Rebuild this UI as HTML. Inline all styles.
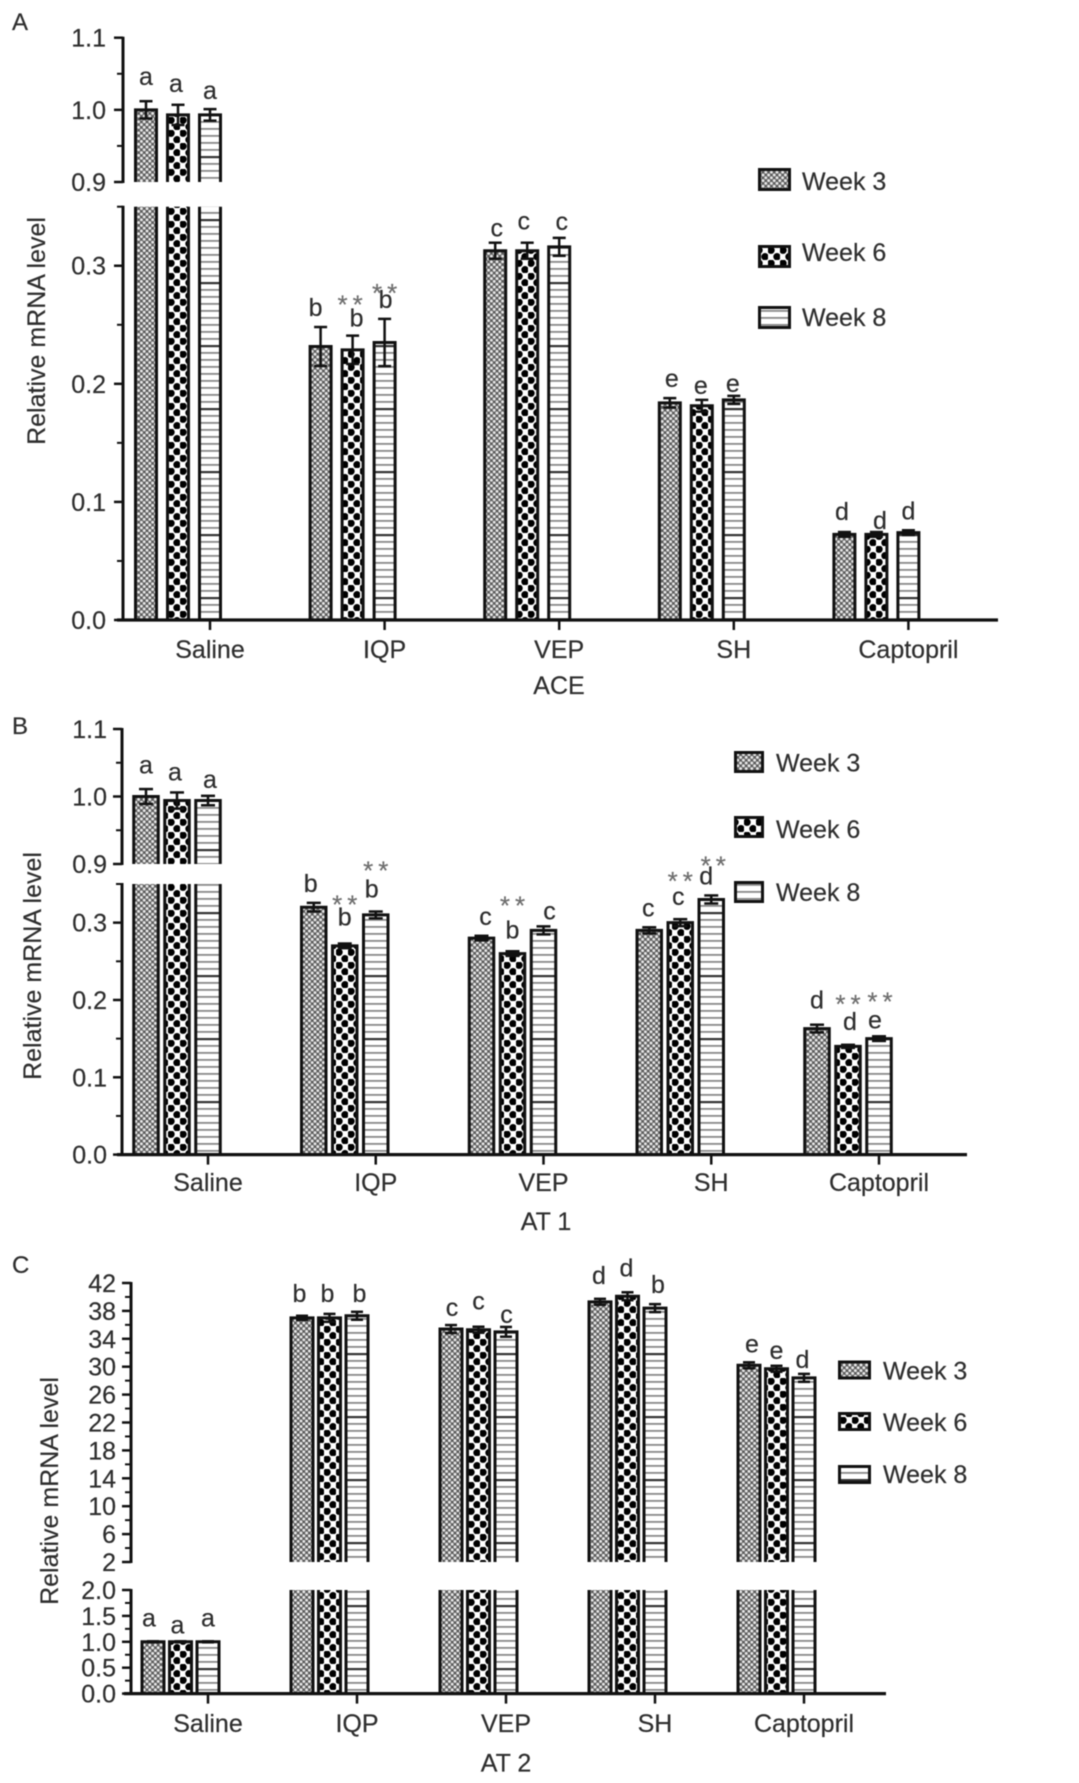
<!DOCTYPE html>
<html lang="en">
<head>
<meta charset="utf-8">
<title>Relative mRNA level charts</title>
<style>
html,body{margin:0;padding:0;background:#fff;}
body{width:1079px;height:1783px;overflow:hidden;}
svg{display:block;filter:blur(0.55px);}
text{font-family:"Liberation Sans",sans-serif;fill:#2e2e2e;stroke:#2e2e2e;stroke-width:0.2px;font-size:25px;}
</style>
</head>
<body>
<svg id="chart" xmlns="http://www.w3.org/2000/svg" width="1079" height="1783" viewBox="0 0 1079 1783">
<defs>
<pattern id="p-week3" patternUnits="userSpaceOnUse" width="5.6" height="5.6">
<rect width="5.6" height="5.6" fill="#5c5c5c"/>
<circle cx="1.4" cy="1.4" r="1.5" fill="#e8e8e8"/>
<circle cx="4.2" cy="4.2" r="1.5" fill="#e8e8e8"/>
</pattern>
<pattern id="p-week6" patternUnits="userSpaceOnUse" width="12" height="13">
<rect width="12" height="13" fill="#fff"/>
<circle cx="3" cy="3.2" r="3.7" fill="#000"/>
<circle cx="9" cy="9.7" r="3.7" fill="#000"/>
</pattern>
<pattern id="p-week8" patternUnits="userSpaceOnUse" width="10" height="63">
<rect width="10" height="63" fill="#fff"/>
<rect y="2" width="10" height="1.8" fill="#8a8a8a"/>
<rect y="9" width="10" height="1.8" fill="#8a8a8a"/>
<rect y="16" width="10" height="1.8" fill="#8a8a8a"/>
<rect y="23" width="10" height="1.8" fill="#8a8a8a"/>
<rect y="30" width="10" height="2.2" fill="#333"/>
<rect y="37" width="10" height="1.8" fill="#8a8a8a"/>
<rect y="44" width="10" height="1.8" fill="#8a8a8a"/>
<rect y="51" width="10" height="1.8" fill="#8a8a8a"/>
<rect y="58" width="10" height="1.8" fill="#8a8a8a"/>
</pattern>
</defs>
</svg>
<script>
const categories = ["Saline", "IQP", "VEP", "SH", "Captopril"];
const seriesNames = ["Week 3", "Week 6", "Week 8"];

/* Panel A: ACE */
const aceWeek3 = [1.0, 0.2316, 0.3127, 0.1839, 0.0725];
const aceWeek6 = [0.993, 0.2288, 0.3127, 0.1814, 0.0725];
const aceWeek8 = [0.993, 0.235, 0.316, 0.1864, 0.074];
const aceErr3 = [0.012, 0.0165, 0.0068, 0.004, 0.002];
const aceErr6 = [0.014, 0.012, 0.0068, 0.005, 0.002];
const aceErr8 = [0.008, 0.02, 0.0076, 0.0034, 0.002];
const aceLetters = ["aaa", "bbb", "ccc", "eee", "ddd"];
const aceUpperTicks = [0.9, 1.0, 1.1];
const aceLowerTicks = [0.0, 0.1, 0.2, 0.3];

/* Panel B: AT 1 */
const at1Week3 = [1.0, 0.32, 0.28, 0.29, 0.163];
const at1Week6 = [0.994, 0.27, 0.26, 0.30, 0.14];
const at1Week8 = [0.994, 0.31, 0.29, 0.33, 0.15];
const at1Err3 = [0.011, 0.0056, 0.003, 0.004, 0.005];
const at1Err6 = [0.012, 0.003, 0.003, 0.0045, 0.002];
const at1Err8 = [0.007, 0.0044, 0.0052, 0.0052, 0.003];
const at1Letters = ["aaa", "bbb", "cbc", "ccd", "dde"];
const at1UpperTicks = [0.9, 1.0, 1.1];
const at1LowerTicks = [0.0, 0.1, 0.2, 0.3];

/* Panel C: AT 2 */
const at2Week3 = [1.0, 37.0, 35.4, 39.3, 30.2];
const at2Week6 = [1.0, 37.0, 35.3, 40.1, 29.7];
const at2Week8 = [1.0, 37.3, 35.0, 38.4, 28.4];
const at2Err3 = [0.01, 0.3, 0.57, 0.43, 0.43];
const at2Err6 = [0.01, 0.57, 0.43, 0.57, 0.43];
const at2Err8 = [0.01, 0.57, 0.7, 0.57, 0.57];
const at2Letters = ["aaa", "bbb", "ccc", "ddb", "eed"];
const at2UpperTicks = [2, 6, 10, 14, 18, 22, 26, 30, 34, 38, 42];
const at2LowerTicks = [0.0, 0.5, 1.0, 1.5, 2.0];

const SVG_NS = "http://www.w3.org/2000/svg";
const root = document.getElementById("chart");

function scale(d0, d1, r0, r1) {
  return function (v) { return r0 + (v - d0) * (r1 - r0) / (d1 - d0); };
}
function make(parent, tag, attrs, name) {
  const el = document.createElementNS(SVG_NS, tag);
  for (const k in attrs) el.setAttribute(k, attrs[k]);
  
  
  parent.appendChild(el);
  return el;
}
function line(parent, x1, y1, x2, y2, w, name) {
  return make(parent, "line", {x1: x1, y1: y1, x2: x2, y2: y2, stroke: "#111", "stroke-width": w}, name);
}
function label(parent, x, y, str, anchor, name, extra) {
  const attrs = {x: x, y: y, "text-anchor": anchor};
  if (extra) for (const k in extra) attrs[k] = extra[k];
  const t = make(parent, "text", attrs, name);
  t.textContent = str;
  return t;
}

function drawBarSegment(g, x, w, yBase, yTop, clipped, fill, name) {
  make(g, "rect", {x: x - w / 2, y: yTop, width: w, height: yBase - yTop, fill: "url(#" + fill + ")"}, name + "-fill");
  const d = clipped
    ? "M" + (x - w / 2) + " " + yBase + "V" + yTop + "M" + (x + w / 2) + " " + yTop + "V" + yBase
    : "M" + (x - w / 2) + " " + yBase + "V" + yTop + "H" + (x + w / 2) + "V" + yBase;
  make(g, "path", {d: d, fill: "none", stroke: "#111", "stroke-width": 3}, name + "-outline");
}

function drawPanel(p) {
  const g = make(root, "g", {}, p.id);
  const low = scale(p.low.d0, p.low.d1, p.low.r0, p.low.r1);
  const up = scale(p.up.d0, p.up.d1, p.up.r0, p.up.r1);
  const catX = function (i) { return p.x0 + i * p.step; };
  const barX = function (i, s) { return catX(i) + (s - 2) * p.pitch; };
  const fills = ["p-week3", "p-week6", "p-week8"];

  label(g, 12, p.letterY, p.letter, "start", "panel-label", {style: "font-size:24px"});

  /* bars, error bars, letters */
  const errTops = [];
  categories.forEach(function (cat, i) {
    errTops.push([]);
    p.values.forEach(function (vals, s) {
      const v = vals[i], e = p.errs[s][i], x = barX(i, s);
      const key = "bar-" + cat.toLowerCase() + "-w" + (s === 0 ? 3 : s === 1 ? 6 : 8);
      let sc;
      if (v > p.low.d1) {
        drawBarSegment(g, x, p.barW, low(p.low.d0), low(p.low.d1), true, fills[s], key + "-lower");
        drawBarSegment(g, x, p.barW, up(p.up.d0), up(v), false, fills[s], key + "-upper");
        sc = up;
      } else {
        drawBarSegment(g, x, p.barW, low(p.low.d0), low(v), false, fills[s], key);
        sc = low;
      }
      const yT = sc(v + e), yB = sc(v - e);
      errTops[i].push(yT);
      line(g, x, yT, x, yB, 2.5, "error-bar-" + key);
      line(g, x - p.cap / 2, yT, x + p.cap / 2, yT, 2.5, "error-cap-high-" + key);
      line(g, x - p.cap / 2, yB, x + p.cap / 2, yB, 2.5, "error-cap-low-" + key);
      label(g, x + p.letterDx[i][s], yT - p.letterGap[i][s], p.letters[i][s], "middle", "significance-letter");
    });
  });
  (p.stars || []).forEach(function (st) {
    const x = barX(st[0], st[1]) + st[2];
    const y = errTops[st[0]][st[1]] - st[3] + 15;
    label(g, x + 2.5, y, "**", "middle", "significance-stars", {style: "font-size:26px;fill:#6e6e6e;stroke:#6e6e6e;letter-spacing:5px"});
  });

  /* y axis */
  line(g, p.axisX, up(p.up.d1) - 1, p.axisX, up(p.up.d0) + 1, 3, "y-axis-upper");
  line(g, p.axisX, low(p.low.d1) - 1, p.axisX, low(p.low.d0), 3, "y-axis-lower");
  function ticks(list, sc, minors, fmt) {
    list.forEach(function (t) {
      line(g, p.axisX - 9, sc(t), p.axisX, sc(t), 2.5, "y-tick");
      label(g, p.labelRight, sc(t) + 9, fmt(t), "end", "y-tick-label");
    });
    minors.forEach(function (t) {
      line(g, p.axisX - 6, sc(t), p.axisX, sc(t), 2, "y-minor-tick");
    });
  }
  ticks(p.upTicks, up, p.upMinor, p.fmtUp);
  ticks(p.lowTicks, low, p.lowMinor, p.fmtLow);

  /* x axis */
  line(g, p.xStart, low(p.low.d0), p.xEnd, low(p.low.d0), 3.2, "x-axis");
  categories.forEach(function (cat, i) {
    line(g, catX(i), low(p.low.d0), catX(i), low(p.low.d0) + 10, 2.5, "x-tick");
    label(g, catX(i), p.catY, cat, "middle", "x-category-label");
  });
  label(g, p.titleX, p.titleY, p.title, "middle", "x-axis-title");

  /* y title */
  label(g, 0, 0, "Relative mRNA level", "middle", "y-axis-title",
    {transform: "translate(" + p.yTitleX + " " + p.yTitleY + ") rotate(-90)"});

  /* legend */
  seriesNames.forEach(function (n, s) {
    const L = p.legend;
    const y = L.y[s];
    make(g, "rect", {x: L.x + 1.5, y: y + 1.5, width: L.w - 3, height: L.h - 3, fill: "url(#" + fills[s] + ")", stroke: "#111", "stroke-width": 3}, "legend-swatch");
    label(g, L.textX, L.base[s], n, "start", "legend-label");
  });
}

function oneDec(v) { return v.toFixed(1); }
function plain(v) { return String(v); }

drawPanel({
  id: "panel-a", letter: "A", letterY: 30, title: "ACE", titleX: 559, titleY: 694,
  values: [aceWeek3, aceWeek6, aceWeek8], errs: [aceErr3, aceErr6, aceErr8], letters: aceLetters,
  letterDx: [[0, -2, 0], [-5, 4, 1], [1.5, -3.5, 2.5], [2, -1, -1], [-2.5, 3.5, 0]],
  letterGap: [[16, 13, 10], [11, 9, 11], [6, 13, 8], [11, 6, 4], [12, 3, 11]],
  stars: [[1, 1, -2.5, 37], [1, 2, 0, 32]],
  x0: 210, step: 174.6, pitch: 32, barW: 21, cap: 13,
  low: {d0: 0, d1: 0.35, r0: 620, r1: 206.7}, up: {d0: 0.9, d1: 1.1, r0: 182, r1: 37.7},
  upTicks: aceUpperTicks, lowTicks: aceLowerTicks,
  upMinor: [0.95, 1.05], lowMinor: [0.05, 0.15, 0.25, 0.35],
  fmtUp: oneDec, fmtLow: oneDec,
  axisX: 123, labelRight: 106, xStart: 117, xEnd: 998, catY: 658,
  yTitleX: 45, yTitleY: 331,
  legend: {x: 758, w: 33, h: 23, y: [168, 245, 306], textX: 802, base: [190, 261, 326]}
});

drawPanel({
  id: "panel-b", letter: "B", letterY: 734, title: "AT 1", titleX: 546, titleY: 1230,
  values: [at1Week3, at1Week6, at1Week8], errs: [at1Err3, at1Err6, at1Err8], letters: at1Letters,
  letterDx: [[0, -2, 2], [-3, 0, -4], [4, 0, 6], [-1, -2, -5], [0, 2, -4]],
  letterGap: [[15.6, 12, 8], [11, 18, 14], [11, 13, 7], [11, 14, 11], [16, 15, 8]],
  stars: [[1, 1, 0, 45], [1, 2, 0, 47], [2, 1, 0, 52], [3, 1, 0, 44], [3, 2, 2, 36], [4, 1, 0, 47], [4, 2, 1, 41]],
  x0: 208, step: 167.75, pitch: 31, barW: 24.5, cap: 14,
  low: {d0: 0, d1: 0.35, r0: 1154.6, r1: 884}, up: {d0: 0.9, d1: 1.1, r0: 864, r1: 729},
  upTicks: at1UpperTicks, lowTicks: at1LowerTicks,
  upMinor: [0.95, 1.05], lowMinor: [0.05, 0.15, 0.25, 0.35],
  fmtUp: oneDec, fmtLow: oneDec,
  axisX: 122, labelRight: 107, xStart: 117, xEnd: 967, catY: 1191,
  yTitleX: 41, yTitleY: 966,
  legend: {x: 734, w: 30, h: 22, y: [751, 816, 881], textX: 776, base: [771.5, 838, 901]}
});

drawPanel({
  id: "panel-c", letter: "C", letterY: 1273, title: "AT 2", titleX: 506, titleY: 1771.5,
  values: [at2Week3, at2Week6, at2Week8], errs: [at2Err3, at2Err6, at2Err8], letters: at2Letters,
  letterDx: [[-4, -3, 0], [-2.5, -2, 2.5], [1, 0, 0.5], [-1, -1, 3], [3, 0, -1.5]],
  letterGap: [[15, 8, 15], [14, 12, 10], [9, 17, 4], [15, 16, 11], [10, 7, 6]],
  stars: [],
  x0: 208, step: 149, pitch: 27.5, barW: 22, cap: 12,
  low: {d0: 0, d1: 2, r0: 1693.6, r1: 1590}, up: {d0: 2, d1: 42, r0: 1562, r1: 1283},
  upTicks: at2UpperTicks, lowTicks: at2LowerTicks,
  upMinor: [4, 8, 12, 16, 20, 24, 28, 32, 36, 40], lowMinor: [0.25, 0.75, 1.25, 1.75],
  fmtUp: plain, fmtLow: oneDec,
  axisX: 131, labelRight: 116, xStart: 124, xEnd: 886, catY: 1732,
  yTitleX: 58, yTitleY: 1491,
  legend: {x: 838, w: 33, h: 19, y: [1360.5, 1412, 1465], textX: 883, base: [1379.5, 1431, 1483]}
});
</script>
</body>
</html>
